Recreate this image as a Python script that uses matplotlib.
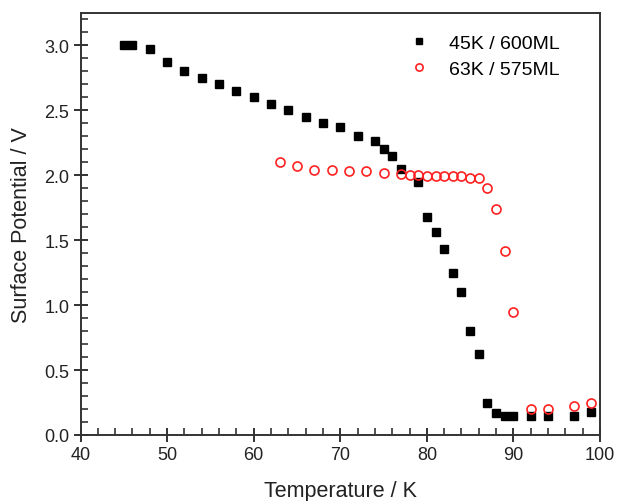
import matplotlib
matplotlib.use("Agg")
import matplotlib.pyplot as plt
from matplotlib.ticker import MultipleLocator

plt.rcParams['font.family'] = ['Liberation Sans', 'DejaVu Sans']

# 45K / 600ML (black squares)
temp_45k = [45, 46, 48, 50, 52, 54, 56, 58, 60, 62, 64, 66, 68, 70, 72, 74, 75, 76, 77,
            79, 80, 81, 82, 83, 84, 85, 86, 87, 88, 89, 90, 92, 94, 97, 99]
pot_45k = [3.00, 3.00, 2.97, 2.87, 2.80, 2.75, 2.70, 2.65, 2.60, 2.55, 2.50, 2.45, 2.40,
           2.37, 2.30, 2.26, 2.20, 2.15, 2.05, 1.95, 1.68, 1.56, 1.43, 1.25, 1.10, 0.80,
           0.62, 0.25, 0.17, 0.15, 0.15, 0.15, 0.15, 0.15, 0.18]

# 63K / 575ML (open red circles)
temp_63k = [63, 65, 67, 69, 71, 73, 75, 77, 78, 79, 80, 81, 82, 83, 84, 85, 86, 87, 88,
            89, 90, 92, 94, 97, 99]
pot_63k = [2.10, 2.07, 2.04, 2.04, 2.03, 2.03, 2.02, 2.01, 2.00, 2.00, 1.99, 1.99, 1.99,
           1.99, 1.99, 1.98, 1.98, 1.90, 1.74, 1.42, 0.95, 0.20, 0.20, 0.22, 0.25]

fig = plt.figure(figsize=(6.17, 5.02), dpi=100)
ax = fig.add_axes([0.1305, 0.1315, 0.842, 0.841])

ax.plot(temp_45k, pot_45k, 's', color='black', markersize=6, label='45K / 600ML')
ax.plot(temp_63k, pot_63k, 'o', markerfacecolor='none', markeredgecolor='#ff2020',
        markeredgewidth=1.2, markersize=6.5, label='63K / 575ML')

ax.set_xlim(40, 100)
ax.set_ylim(0, 3.25)
ax.xaxis.set_major_locator(MultipleLocator(10))
ax.xaxis.set_minor_locator(MultipleLocator(2))
ax.yaxis.set_major_locator(MultipleLocator(0.5))
ax.yaxis.set_minor_locator(MultipleLocator(0.1))
ax.yaxis.set_major_formatter(plt.FormatStrFormatter('%.1f'))

ax.tick_params(which='major', direction='inout', length=10, width=1.3,
               labelsize=13, colors='#222222', pad=3)
ax.tick_params(which='minor', direction='in', length=5, width=1.1, colors='#222222')
ax.tick_params(top=False, right=False, which='both')

for sp in ax.spines.values():
    sp.set_linewidth(1.4)
    sp.set_color('#333333')

ax.set_xlabel('Temperature / K', fontsize=15.5, color='#222222', labelpad=12)
ax.set_ylabel('Surface Potential / V', fontsize=15.5, color='#222222', labelpad=9)

ax.legend(loc='upper left', bbox_to_anchor=(0.60, 0.99), frameon=False,
          fontsize=14, handlelength=1.0, handletextpad=1.0, labelspacing=0.4,
          markerscale=0.8)

fig.savefig('out.png', dpi=100)
